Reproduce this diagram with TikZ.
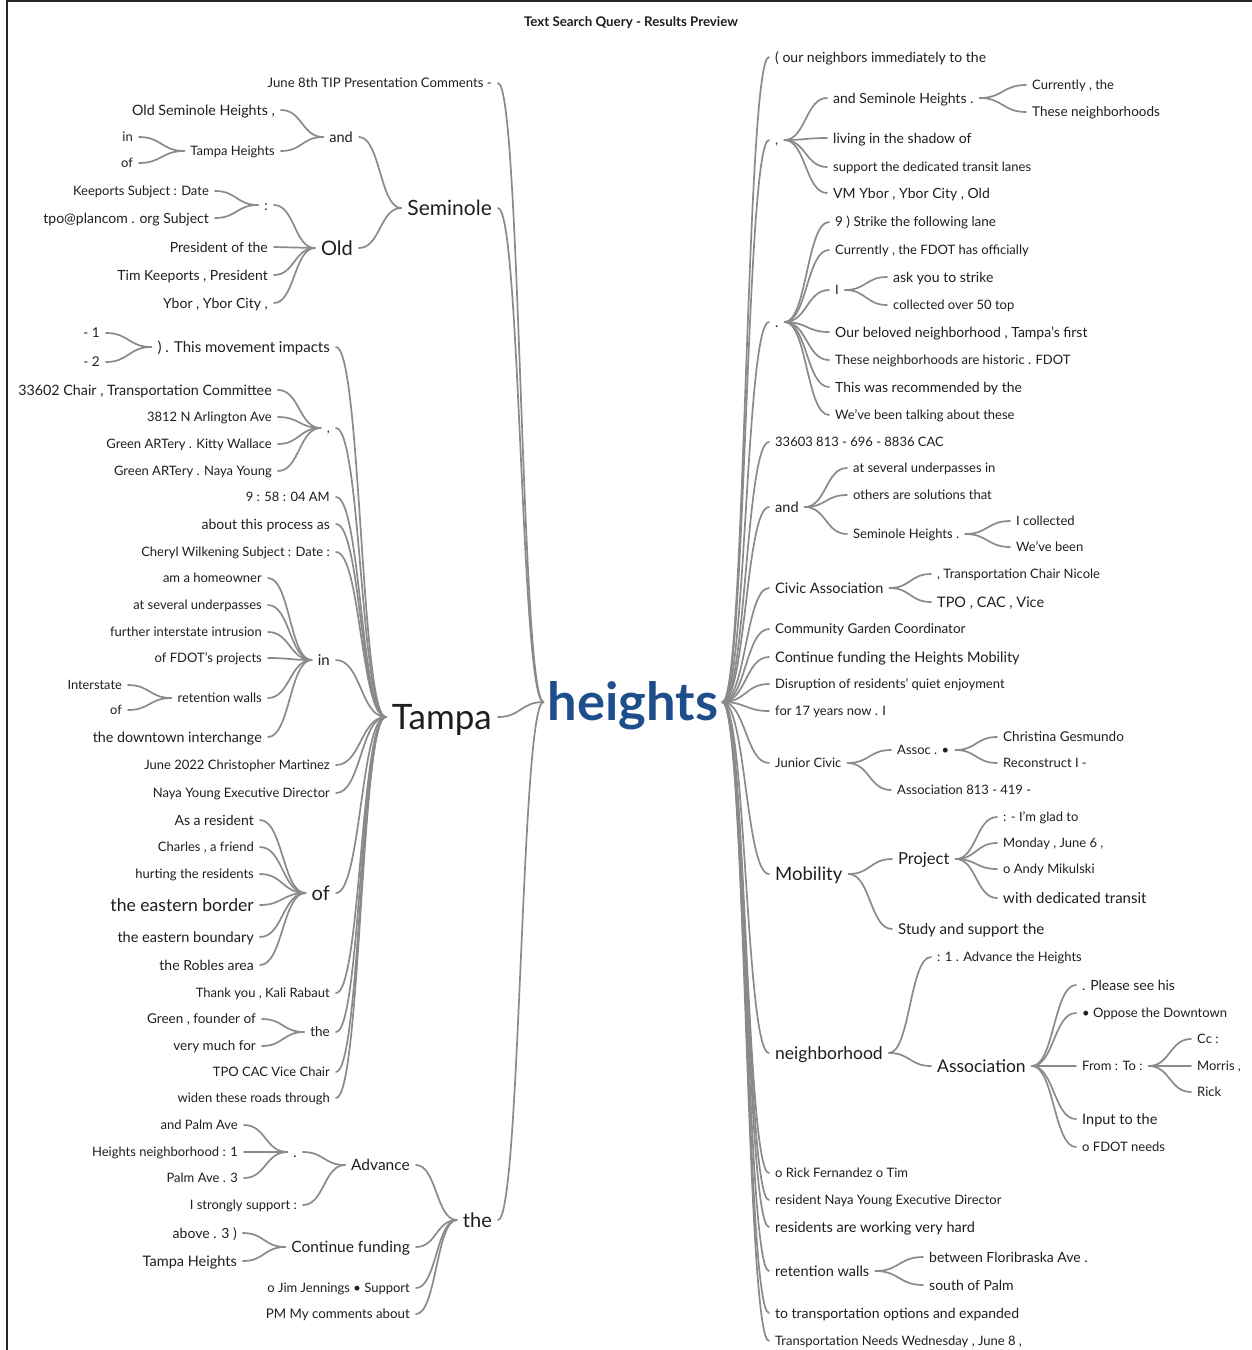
\documentclass[tikz,border=0pt]{standalone}
\usepackage{fontspec}
\setmainfont{Lato}
\usetikzlibrary{calc,positioning}
\definecolor{HeightsBlue}{RGB}{31,78,140}
\definecolor{TwigGray}{RGB}{138,138,138}
\definecolor{WordInk}{RGB}{30,30,30}

% curved connector, horizontal at both ends
\newcommand{\twig}[2]{\draw[twig] let \p1=(#1), \p2=(#2), \p3=($(\p1)!.5!(\p2)$) in (\p1) .. controls (\x3,\y1) and (\x3,\y2) .. (\p2);}
\newcommand{\lfan}[2]{\foreach \c in {#2} {\twig{#1.west}{\c.east}}}
\newcommand{\rfan}[2]{\foreach \c in {#2} {\twig{#1.east}{\c.west}}}

\begin{document}
\begin{tikzpicture}[
    x=1pt, y=-1pt,
    word/.style={inner xsep=6pt, inner ysep=1pt, text=WordInk, fs=13},
    lw/.style={word, anchor=east},
    rw/.style={word, anchor=west},
    fs/.style={font=\fontsize{#1}{#1}\selectfont, text height={0.72*#1pt}, text depth=0pt},
    twig/.style={draw=TwigGray, line width=1.7pt, line cap=round},
  ]
    \useasboundingbox (0,0) rectangle (1252,1350);
    \draw[line width=1.4pt, black!85] (7,1350) -- (7,1) -- (1252,1);
    \node[font=\fontsize{13.3}{15}\selectfont\bfseries, text=WordInk] (title) at (631,23) {Text Search Query - Results Preview};

    \node[font=\fontsize{52.5}{52}\selectfont\bfseries, text=HeightsBlue, text height=37.8pt, text depth=0pt, inner xsep=4pt] (heights) at (633,702) {heights};

    % left side
    \node[lw, fs=13.2] (june) at (498,83) {June 8th TIP Presentation Comments -};
    \node[lw, fs=21] (sem) at (498,208) {Seminole};
    \node[lw, fs=35] (tampa) at (498,717) {Tampa};
    \node[lw, fs=20] (lthe) at (498,1220) {the};

    \node[lw, fs=14.5] (semand) at (359,137) {and};
    \node[lw, fs=20] (old) at (359,248) {Old};
    \node[lw, fs=14.3] (osh) at (281,110) {Old Seminole Heights ,};
    \node[lw, fs=13] (tph) at (281,151) {Tampa Heights};
    \node[lw, fs=13] (tphin) at (139,137) {in};
    \node[lw, fs=13] (tphof) at (139,163) {of};
    \node[lw, fs=14] (colon) at (274,205) {:};
    \node[lw, fs=14] (pres) at (274,247) {President of the};
    \node[lw, fs=14] (timk) at (274,275) {Tim Keeports , President};
    \node[lw, fs=14] (ybor) at (274,303) {Ybor , Ybor City ,};
    \node[lw, fs=13] (keep) at (215,191) {Keeports Subject : Date};
    \node[lw, fs=14] (tpo) at (215,218) {tpo@plancom . org Subject};

    \node[lw, fs=15] (move) at (336,347) {) . This movement impacts};
    \node[lw, fs=13] (comma) at (336,428) {,};
    \node[lw, fs=13] (time) at (336,497) {9 : 58 : 04 AM};
    \node[lw, fs=14] (about) at (336,524) {about this process as};
    \node[lw, fs=13] (cheryl) at (336,552) {Cheryl Wilkening Subject : Date :};
    \node[lw, fs=15] (tin) at (336,660) {in};
    \node[lw, fs=13] (jm) at (336,765) {June 2022 Christopher Martinez};
    \node[lw, fs=13] (naya) at (336,793) {Naya Young Executive Director};
    \node[lw, fs=20] (tof) at (336,893) {of};
    \node[lw, fs=13] (kali) at (336,993) {Thank you , Kali Rabaut};
    \node[lw, fs=13.5] (tthe) at (336,1032) {the};
    \node[lw, fs=13] (tpocac) at (336,1072) {TPO CAC Vice Chair};
    \node[lw, fs=13] (widen) at (336,1098) {widen these roads through};

    \node[lw, fs=13.5] (mone) at (106,333) {- 1};
    \node[lw, fs=13.5] (mtwo) at (106,362) {- 2};
    \node[lw, fs=14.3] (chair) at (278,390) {33602 Chair , Transportation Committee};
    \node[lw, fs=13] (arl) at (278,417) {3812 N Arlington Ave};
    \node[lw, fs=13] (kitty) at (278,444) {Green ARTery . Kitty Wallace};
    \node[lw, fs=13] (gany) at (278,471) {Green ARTery . Naya Young};

    \node[lw, fs=13] (home) at (268,578) {am a homeowner};
    \node[lw, fs=13] (under) at (268,605) {at several underpasses};
    \node[lw, fs=13] (further) at (268,632) {further interstate intrusion};
    \node[lw, fs=13] (fdot) at (268,658) {of FDOT's projects};
    \node[lw, fs=13] (retw) at (268,698) {retention walls};
    \node[lw, fs=14.3] (down) at (268,737) {the downtown interchange};
    \node[lw, fs=12.8] (inter) at (128,685) {Interstate};
    \node[lw, fs=12.8] (rof) at (128,710) {of};

    \node[lw, fs=14] (asres) at (260,820) {As a resident};
    \node[lw, fs=13] (charles) at (260,847) {Charles , a friend};
    \node[lw, fs=13] (hurt) at (260,874) {hurting the residents};
    \node[lw, fs=17.6] (border) at (260,905) {the eastern border};
    \node[lw, fs=14.5] (boundary) at (260,937) {the eastern boundary};
    \node[lw, fs=14] (robles) at (260,965) {the Robles area};
    \node[lw, fs=13.5] (founder) at (262,1019) {Green , founder of};
    \node[lw, fs=13.5] (much) at (262,1046) {very much for};

    \node[lw, fs=15.5] (adv) at (416,1165) {Advance};
    \node[lw, fs=15.5] (cf) at (416,1247) {Continue funding};
    \node[lw, fs=13] (jim) at (416,1288) {o Jim Jennings • Support};
    \node[lw, fs=13.3] (pm) at (416,1314) {PM My comments about};
    \node[lw, fs=14] (dot) at (303,1152) {.};
    \node[lw, fs=13] (strong) at (303,1205) {I strongly support :};
    \node[lw, fs=13] (palm) at (244,1125) {and Palm Ave};
    \node[lw, fs=13] (hnone) at (244,1152) {Heights neighborhood : 1};
    \node[lw, fs=13] (palmthree) at (244,1178) {Palm Ave . 3};
    \node[lw, fs=14] (above) at (243,1233) {above . 3 )};
    \node[lw, fs=14.5] (tphtwo) at (243,1261) {Tampa Heights};

    % right side
    \node[rw, fs=14] (nbr) at (769,57) {( our neighbors immediately to the};
    \node[rw, fs=13] (rcomma) at (769,140) {,};
    \node[rw, fs=14] (rdot) at (769,322) {.};
    \node[rw, fs=13] (cac) at (769,442) {33603 813 - 696 - 8836 CAC};
    \node[rw, fs=14.5] (rand) at (769,507) {and};
    \node[rw, fs=14.5] (civic) at (769,588) {Civic Association};
    \node[rw, fs=13.5] (garden) at (769,629) {Community Garden Coordinator};
    \node[rw, fs=14.5] (cfhm) at (769,657) {Continue funding the Heights Mobility};
    \node[rw, fs=13] (disr) at (769,684) {Disruption of residents’ quiet enjoyment};
    \node[rw, fs=13] (years) at (769,711) {for 17 years now . I};
    \node[rw, fs=13] (junior) at (769,763) {Junior Civic};
    \node[rw, fs=18.5] (mob) at (769,874) {Mobility};
    \node[rw, fs=17.5] (nbh) at (769,1053) {neighborhood};
    \node[rw, fs=13] (rick) at (769,1173) {o Rick Fernandez o Tim};
    \node[rw, fs=13] (rnaya) at (769,1200) {resident Naya Young Executive Director};
    \node[rw, fs=14.5] (hard) at (769,1227) {residents are working very hard};
    \node[rw, fs=14.5] (rretw) at (769,1271) {retention walls};
    \node[rw, fs=14] (opts) at (769,1313) {to transportation options and expanded};
    \node[rw, fs=13] (needs) at (769,1341) {Transportation Needs Wednesday , June 8 ,};

    \node[rw, fs=14] (ash) at (827,98) {and Seminole Heights .};
    \node[rw, fs=14] (shadow) at (827,138) {living in the shadow of};
    \node[rw, fs=13] (lanes) at (827,167) {support the dedicated transit lanes};
    \node[rw, fs=14] (vm) at (827,193) {VM Ybor , Ybor City , Old};
    \node[rw, fs=13] (curr) at (1026,85) {Currently , the};
    \node[rw, fs=13.5] (these) at (1026,112) {These neighborhoods};

    \node[rw, fs=13.5] (strike) at (829,222) {9 ) Strike the following lane};
    \node[rw, fs=13] (fdoto) at (829,250) {Currently , the FDOT has officially};
    \node[rw, fs=13] (ri) at (829,290) {I};
    \node[rw, fs=14] (beloved) at (829,332) {Our beloved neighborhood , Tampa's first};
    \node[rw, fs=13] (hist) at (829,360) {These neighborhoods are historic . FDOT};
    \node[rw, fs=14] (recom) at (829,387) {This was recommended by the};
    \node[rw, fs=13] (talk) at (829,415) {We've been talking about these};
    \node[rw, fs=14] (ask) at (887,277) {ask you to strike};
    \node[rw, fs=13] (fifty) at (887,305) {collected over 50 top};

    \node[rw, fs=13] (runder) at (847,468) {at several underpasses in};
    \node[rw, fs=13] (others) at (847,495) {others are solutions that};
    \node[rw, fs=13] (semh) at (847,534) {Seminole Heights .};
    \node[rw, fs=13] (icol) at (1010,521) {I collected};
    \node[rw, fs=13] (wbeen) at (1010,547) {We’ve been};
    \node[rw, fs=13] (nicole) at (931,574) {, Transportation Chair Nicole};
    \node[rw, fs=14.5] (tpocv) at (931,602) {TPO , CAC , Vice};

    \node[rw, fs=13] (assoc) at (891,750) {Assoc . •};
    \node[rw, fs=13] (afour) at (891,790) {Association 813 - 419 -};
    \node[rw, fs=13.5] (gesm) at (997,737) {Christina Gesmundo};
    \node[rw, fs=13] (recon) at (997,763) {Reconstruct I -};

    \node[rw, fs=16.5] (proj) at (892,859) {Project};
    \node[rw, fs=15] (study) at (892,929) {Study and support the};
    \node[rw, fs=13] (glad) at (997,817) {: - I'm glad to};
    \node[rw, fs=13] (monday) at (997,843) {Monday , June 6 ,};
    \node[rw, fs=13] (andy) at (997,869) {o Andy Mikulski};
    \node[rw, fs=15] (transit) at (997,898) {with dedicated transit};

    \node[rw, fs=13] (advone) at (931,957) {: 1 . Advance the Heights};
    \node[rw, fs=17.5] (assn) at (931,1066) {Association};
    \node[rw, fs=14] (see) at (1076,985) {. Please see his};
    \node[rw, fs=13] (oppose) at (1076,1013) {• Oppose the Downtown};
    \node[rw, fs=13] (fromto) at (1076,1066) {From : To :};
    \node[rw, fs=14.5] (input) at (1076,1119) {Input to the};
    \node[rw, fs=13] (fneeds) at (1076,1147) {o FDOT needs};
    \node[rw, fs=13] (cc) at (1191,1039) {Cc :};
    \node[rw, fs=13] (morris) at (1191,1066) {Morris ,};
    \node[rw, fs=13] (rrick) at (1191,1092) {Rick};

    \node[rw, fs=14] (flori) at (923,1257) {between Floribraska Ave .};
    \node[rw, fs=14] (spalm) at (923,1285) {south of Palm};

    % connectors
    \lfan{heights}{june,sem,tampa,lthe}
    \lfan{sem}{semand,old}
    \lfan{semand}{osh,tph}
    \lfan{tph}{tphin,tphof}
    \lfan{old}{colon,pres,timk,ybor}
    \lfan{colon}{keep,tpo}
    \lfan{tampa}{move,comma,time,about,cheryl,tin,jm,naya,tof,kali,tthe,tpocac,widen}
    \lfan{move}{mone,mtwo}
    \lfan{comma}{chair,arl,kitty,gany}
    \lfan{tin}{home,under,further,fdot,retw,down}
    \lfan{retw}{inter,rof}
    \lfan{tof}{asres,charles,hurt,border,boundary,robles}
    \lfan{tthe}{founder,much}
    \lfan{lthe}{adv,cf,jim,pm}
    \lfan{adv}{dot,strong}
    \lfan{dot}{palm,hnone,palmthree}
    \lfan{cf}{above,tphtwo}

    \rfan{heights}{nbr,rcomma,rdot,cac,rand,civic,garden,cfhm,disr,years,junior,mob,nbh,rick,rnaya,hard,rretw,opts,needs}
    \rfan{rcomma}{ash,shadow,lanes,vm}
    \rfan{ash}{curr,these}
    \rfan{rdot}{strike,fdoto,ri,beloved,hist,recom,talk}
    \rfan{ri}{ask,fifty}
    \rfan{rand}{runder,others,semh}
    \rfan{semh}{icol,wbeen}
    \rfan{civic}{nicole,tpocv}
    \rfan{junior}{assoc,afour}
    \rfan{assoc}{gesm,recon}
    \rfan{mob}{proj,study}
    \rfan{proj}{glad,monday,andy,transit}
    \rfan{nbh}{advone,assn}
    \rfan{assn}{see,oppose,fromto,input,fneeds}
    \rfan{fromto}{cc,morris,rrick}
    \rfan{rretw}{flori,spalm}
  \end{tikzpicture}
\end{document}
